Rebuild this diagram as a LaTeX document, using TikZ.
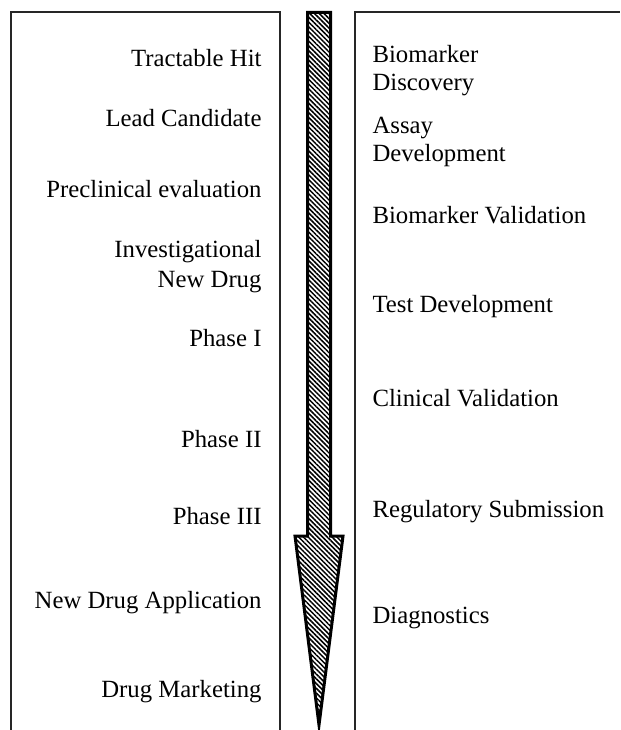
\documentclass[tikz,border=0pt]{standalone}
\usepackage{fontspec}
\setmainfont{Liberation Serif}
\usetikzlibrary{patterns.meta}

\begin{document}
\begin{tikzpicture}[x=0.4pt,y=-0.4pt,
  cadre/.style={line width=0.8pt,draw=black!85},
  etapeD/.style={anchor=base east,inner sep=0pt,align=right,font=\fontsize{9.9}{12}\selectfont},
  etapeB/.style={anchor=base west,inner sep=0pt,align=left,font=\fontsize{9.9}{11.4}\selectfont},
  fleche/.style={line width=1.2pt,line join=miter,pattern={Lines[angle=-45,distance=1.35pt,line width=0.6pt]}}]
\useasboundingbox (0,0) rectangle (620,730);
% les deux cadres ouverts en bas
\draw[cadre] (11,730) -- (11,12) -- (280,12) -- (280,730);
\draw[cadre] (355,730) -- (355,12) -- (620,12);
% la fleche hachuree
\draw[fleche] (307.5,12.5) -- (330.5,12.5) -- (330.5,536) -- (343,536)
  -- (319,725) -- (295,536) -- (307.5,536) -- cycle;
% developpement du medicament (base = derniere ligne)
\node[etapeD] (hit) at (262,67) {Tractable Hit};
\node[etapeD] (lead) at (262,127) {Lead Candidate};
\node[etapeD] (precl) at (262,198) {Preclinical evaluation};
\node[etapeD] (ind) at (262,288) {Investigational\\New Drug};
\node[etapeD] (ph1) at (262,347) {Phase I};
\node[etapeD] (ph2) at (262,447) {Phase II};
\node[etapeD] (ph3) at (262,524) {Phase III};
\node[etapeD] (nda) at (262,608) {New Drug Application};
\node[etapeD] (mkt) at (262,697) {Drug Marketing};
% biomarqueurs
\node[etapeB] (disc) at (372,91) {Biomarker\\Discovery};
\node[etapeB] (assay) at (372,162) {Assay\\Development};
\node[etapeB] (bval) at (372,224) {Biomarker Validation};
\node[etapeB] (test) at (372,313) {Test Development};
\node[etapeB] (cval) at (372,407) {Clinical Validation};
\node[etapeB] (reg) at (372,517) {Regulatory Submission};
\node[etapeB] (diag) at (372,623) {Diagnostics};
\end{tikzpicture}
\end{document}
